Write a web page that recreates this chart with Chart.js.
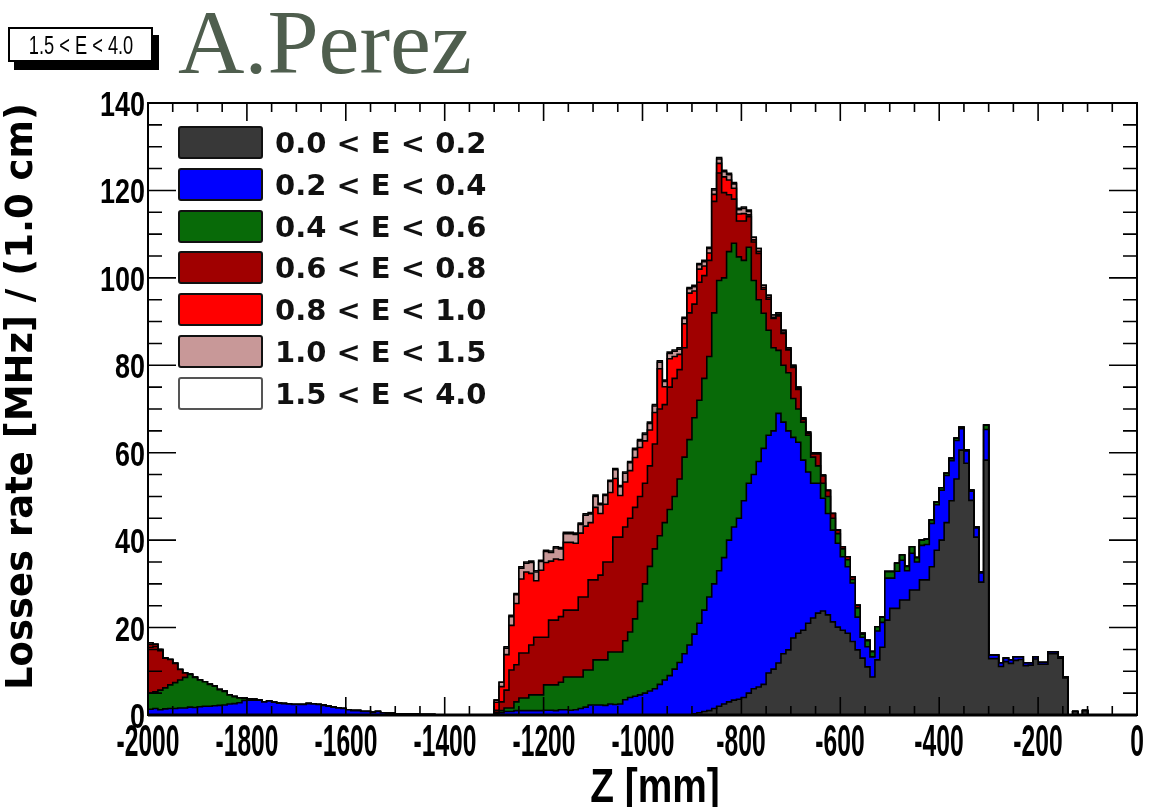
<!DOCTYPE html>
<html>
<head>
<meta charset="utf-8">
<title>Losses rate vs Z</title>
<script src="https://cdn.jsdelivr.net/npm/chart.js@4.4.0/dist/chart.umd.min.js"></script>
<style>
  html, body { margin: 0; padding: 0; background: #fff; }
  #wrap { position: relative; width: 1154px; height: 807px; overflow: hidden; }
  #losses { position: absolute; left: 0; top: 0; }
  #tag {
    position: absolute; left: 8px; top: 27px; width: 141px; height: 31px;
    border: 2px solid #000; background: #fff; box-shadow: 6px 8px 0 #000;
  }
  #tag span {
    position: absolute; left: 50%; top: 50%; white-space: nowrap;
    font: 25px 'Liberation Sans', Arial, sans-serif; line-height: 25px; color: #000;
    transform: translate(-50%, -50%) scaleX(0.73);
  }
  #author {
    position: absolute; left: 178px; top: -4px;
    font: 92px 'Liberation Serif', 'DejaVu Serif', serif; line-height: 92px;
    color: #4f5e4e;
  }
  #legend { position: absolute; left: 178px; top: 126px; }
  .row { position: absolute; left: 0; height: 34px; width: 330px; }
  .swatch {
    position: absolute; left: 0; top: 0; width: 81px; height: 29px;
    border: 2.5px solid #111; border-radius: 3px;
  }
  .row span {
    position: absolute; left: 97px; top: 0; line-height: 34px; white-space: nowrap;
    font: bold 29px 'DejaVu Sans', sans-serif; color: #111;
  }
  .tick {
    position: absolute; white-space: nowrap; color: #000;
    font-family: 'Liberation Sans', Arial, sans-serif; font-weight: bold;
  }
  .tick.x { font-size: 44px; line-height: 44px; transform: translate(-50%, -50%) scaleX(0.56); }
  .tick.y { font-size: 35px; line-height: 35px; transform-origin: right center;
            transform: translate(-100%, -50%) scaleX(0.77); }
  #xtitle {
    position: absolute; left: 655px; top: 786px; white-space: nowrap; color: #000;
    font: bold 48px 'Liberation Sans', Arial, sans-serif; line-height: 48px;
    transform: translate(-50%, -50%) scaleX(0.81);
  }
</style>
</head>
<body>
<div id="wrap">
  <canvas id="losses" width="1154" height="807"></canvas>
  <div id="tag"><span>1.5 &lt; E &lt; 4.0</span></div>
  <div id="author">A.Perez</div>
  <div id="legend"></div>
  <div id="xtitle">Z [mm]</div>
</div>
<script>
// histogram binning along Z (mm)
const zStart = -2000;
const binWidth = 10;

const energyBands = ['0.0 < E < 0.2', '0.2 < E < 0.4', '0.4 < E < 0.6', '0.6 < E < 0.8',
                     '0.8 < E < 1.0', '1.0 < E < 1.5', '1.5 < E < 4.0'];
const bandColors = ['#383838', '#0000ff', '#086a08', '#a00000', '#ff0000', '#c89898', '#ffffff'];
const xTicks = [-2000, -1800, -1600, -1400, -1200, -1000, -800, -600, -400, -200, 0];
const yTicks = [0, 20, 40, 60, 80, 100, 120, 140];

// losses rate per 1 cm bin [MHz], one row = 100 mm
const e00_02 = [
  0,0,0,0,0,0,0,0,0,0,
  0,0,0,0,0,0,0,0,0,0,
  0,0,0,0,0,0,0,0,0,0,
  0,0,0,0,0,0,0,0,0,0,
  0,0,0,0,0,0,0,0,0,0,
  0,0,0,0,0,0,0,0,0,0,
  0,0,0,0,0,0,0,0,0,0,
  0,0,0,0,0,0,0,0,0,0,
  0,0,0,0,0,0,0,0,0,0,
  0,0,0,0,0,0,0,0,0,0,
  0,0,0,0,0,0,0,0,0,0,
  0.3,0.5,0.8,1.0,1.5,2.0,2.5,3.0,3.4,3.6,
  4.0,5.0,6.0,6.4,7.0,9.6,10.5,11.9,14.0,14.9,
  17.6,18.7,19.4,21.0,22.2,23.3,23.8,22.9,21.3,20.1,
  19.4,18.7,16.8,14.9,13.0,11.0,8.7,12.6,15.5,21.7,
  24.4,24.4,26.3,26.3,28.6,28.6,30.9,30.9,33.9,37.7,
  40.0,44.0,49.0,54.0,60.6,57.6,49.1,40.7,30.4,58.3,
  12.9,12.9,11.1,12.2,11.8,12.5,12.7,11.3,11.4,12.8,
  11.6,11.6,14.0,14.0,13.0,8.5,0,0.8,0,1.0,
  0,0,0,0,0,0,0,0,0,0
];
const e02_04 = [
  1.3,1.5,1.2,1.4,1.5,1.5,1.6,1.6,1.8,1.7,
  1.9,2.0,2.0,2.1,2.2,2.3,2.5,2.6,2.8,3.3,
  3.4,3.4,3.4,3.0,3.2,2.9,2.7,2.6,2.5,2.4,
  2.4,2.4,2.6,2.5,2.4,2.2,2.0,1.8,1.6,1.5,
  1.2,1.0,1.0,0.8,0.8,0.6,0.8,0.5,0.4,0.4,
  0.3,0.3,0.2,0.2,0.2,0.1,0.1,0.1,0,0,
  0,0,0,0,0,0,0,0,0,0,
  0.3,0.5,0.8,0.8,1.0,1.0,1.0,1.0,1.0,1.0,
  1.1,1.1,1.0,1.2,1.2,1.1,1.2,1.5,1.8,2.3,
  2.3,2.3,2.2,2.5,2.4,2.5,3.5,4.0,4.3,4.6,
  5.0,5.5,6.0,7.0,8.0,9.0,10.5,12.0,14.0,16.0,
  18.2,20.5,23.2,26.0,28.5,31.0,33.5,37.0,39.6,41.4,
  45.0,48.0,49.0,51.6,54.0,54.4,54.5,57.1,53.0,50.1,
  45.9,43.7,38.9,34.6,30.8,29.7,25.8,23.2,21.0,19.2,
  16.8,15.2,13.4,7.5,4.8,4.6,4.6,6.6,5.7,9.6,
  6.9,8.5,9.1,6.7,8.4,6.4,7.9,8.1,9.9,10.4,
  11.4,10.8,9.2,8.8,4.9,2.8,2.1,2.1,2.1,7.0,
  0.8,0.8,0.8,0.8,0.8,0.8,0.6,0.6,0.5,0.5,
  0.4,0.4,0.4,0.4,0.3,0.2,0,0,0,0,
  0,0,0,0,0,0,0,0,0,0
];
const e04_06 = [
  3.7,3.8,4.5,4.8,5.4,5.9,6.4,7.0,7.5,6.9,
  6.1,5.6,5.0,4.5,3.6,3.1,2.1,1.6,1.1,0.5,
  0.3,0.2,0,0,0,0,0,0,0,0,
  0,0,0,0,0,0,0,0,0,0,
  0,0,0,0,0,0,0,0,0,0,
  0,0,0,0,0,0,0,0,0,0,
  0,0,0,0,0,0,0,0,0,0,
  0.3,0.5,0.8,0.8,2.0,2.9,2.9,3.6,3.6,3.6,
  5.8,5.8,5.9,6.3,7.5,7.6,7.5,7.2,8.5,8.0,
  10.3,10.3,10.4,11.9,12.0,11.9,13.5,15.0,17.7,21.4,
  25.0,28.5,32.0,34.0,36.0,38.0,39.5,42.0,45.0,47.0,
  49.5,51.0,53.0,55.0,62.0,66.4,64.0,66.0,64.9,59.8,
  55.0,54.0,44.4,37.0,30.9,24.0,19.0,14.4,13.0,13.3,
  8.9,7.6,8.7,8.4,6.0,4.0,3.4,3.9,2.7,2.2,
  1.8,1.6,0.8,2.1,0.7,1.4,1.2,1.0,1.2,1.5,
  1.5,1.8,1.2,1.0,1.5,1.0,1.2,1.2,0.8,0.6,
  0.6,0.5,0.5,0.5,0.3,0.2,0.2,0.2,0.2,1.0,
  0,0,0,0,0,0,0,0,0,0,
  0,0,0,0,0,0,0,0,0,0,
  0,0,0,0,0,0,0,0,0,0
];
const e06_08 = [
  10.5,10.4,9.0,6.8,5.8,4.4,2.4,1.0,0,0,
  0,0,0,0,0,0,0,0,0,0,
  0,0,0,0,0,0,0,0,0,0,
  0,0,0,0,0,0,0,0,0,0,
  0,0,0,0,0,0,0,0,0,0,
  0,0,0,0,0,0,0,0,0,0,
  0,0,0,0,0,0,0,0,0,0,
  0.5,2.0,4.1,8.7,8.5,10.3,10.3,11.4,13.2,13.2,
  10.9,14.8,14.8,15.0,15.3,15.3,15.3,18.3,16.7,20.6,
  18.3,19.4,22.4,20.6,26.3,26.3,26.0,26.0,25.5,24.0,
  23.0,23.0,24.0,29.0,27.0,28.0,27.0,25.0,25.0,29.0,
  26.0,27.0,23.5,22.0,25.5,24.6,19.5,13.0,10.1,8.2,
  9.0,7.0,8.8,10.6,5.5,7.1,6.7,7.9,7.3,5.2,
  7.1,4.5,0.6,0.4,0.7,2.7,1.7,1.3,1.1,0.8,
  0.5,0.7,0.6,0.6,0.2,0.1,0,0,0,0,
  0,0,0,0,0,0,0,0,0,0,
  0,0,0,0,0,0,0,0,0,0,
  0,0,0,0,0,0,0,0,0,0,
  0,0,0,0,0,0,0,0,0,0,
  0,0,0,0,0,0,0,0,0,0
];
const e08_10 = [
  0.6,0.5,0.3,0,0,0,0,0,0,0,
  0,0,0,0,0,0,0,0,0,0,
  0,0,0,0,0,0,0,0,0,0,
  0,0,0,0,0,0,0,0,0,0,
  0,0,0,0,0,0,0,0,0,0,
  0,0,0,0,0,0,0,0,0,0,
  0,0,0,0,0,0,0,0,0,0,
  1.8,3.5,8.1,10.2,14.0,16.9,18.5,16.4,12.9,15.3,
  17.1,13.5,14.0,13.0,15.5,15.5,15.3,14.6,16.2,13.1,
  16.6,14.1,13.2,15.9,13.4,9.5,10.3,10.9,11.4,11.2,
  9.7,8.2,7.2,9.2,4.1,6.5,5.0,3.5,5.5,4.5,
  3.0,3.0,2.2,1.7,1.6,2.2,3.6,3.4,2.5,1.6,
  1.7,0.4,0.5,0.5,0.4,0.4,0.3,0.3,0.3,0.2,
  0.2,0.2,0.2,0.1,0.1,0.1,0.1,0.1,0,0,
  0,0,0,0,0,0,0,0,0,0,
  0,0,0,0,0,0,0,0,0,0,
  0,0,0,0,0,0,0,0,0,0,
  0,0,0,0,0,0,0,0,0,0,
  0,0,0,0,0,0,0,0,0,0,
  0,0,0,0,0,0,0,0,0,0
];
const e10_15 = [
  0.4,0,0,0,0,0,0,0,0,0,
  0,0,0,0,0,0,0,0,0,0,
  0,0,0,0,0,0,0,0,0,0,
  0,0,0,0,0,0,0,0,0,0,
  0,0,0,0,0,0,0,0,0,0,
  0,0,0,0,0,0,0,0,0,0,
  0,0,0,0,0,0,0,0,0,0,
  0.5,1.0,1.5,2.0,2.0,2.5,2.0,2.5,2.0,2.0,
  2.5,2.0,2.5,2.5,2.0,2.0,2.0,2.0,2.5,2.0,
  2.5,2.0,2.0,2.5,2.0,2.0,2.0,1.8,1.8,1.5,
  1.5,1.5,1.5,1.5,1.2,1.2,1.2,1.2,1.2,1.0,
  1.0,1.0,1.0,1.0,1.0,1.0,1.2,1.2,1.0,1.0,
  1.2,0.8,0.6,0.6,0.5,0.5,0.5,0.4,0.4,0.3,
  0.3,0.3,0.2,0.2,0.2,0.2,0.1,0,0,0,
  0,0,0,0,0,0,0,0,0,0,
  0,0,0,0,0,0,0,0,0,0,
  0,0,0,0,0,0,0,0,0,0,
  0,0,0,0,0,0,0,0,0,0,
  0,0,0,0,0,0,0,0,0,0,
  0,0,0,0,0,0,0,0,0,0
];
const e15_40 = [
  0,0,0,0,0,0,0,0,0,0,
  0,0,0,0,0,0,0,0,0,0,
  0,0,0,0,0,0,0,0,0,0,
  0,0,0,0,0,0,0,0,0,0,
  0,0,0,0,0,0,0,0,0,0,
  0,0,0,0,0,0,0,0,0,0,
  0,0,0,0,0,0,0,0,0,0,
  0,0,0.3,0.3,0.3,0.3,0.3,0.3,0.3,0.3,
  0.3,0.3,0.3,0.3,0.3,0.3,0.3,0.3,0.3,0.3,
  0.3,0.3,0.3,0.3,0.3,0.3,0.3,0.3,0.3,0.3,
  0.3,0.3,0.3,0.3,0.3,0.3,0.3,0.3,0.3,0.3,
  0.3,0.3,0.3,0.3,0.3,0.3,0.3,0.3,0.3,0.3,
  0.3,0.3,0,0,0,0,0,0,0,0,
  0,0,0,0,0,0,0,0,0,0,
  0,0,0,0,0,0,0,0,0,0,
  0,0,0,0,0,0,0,0,0,0,
  0,0,0,0,0,0,0,0,0,0,
  0,0,0,0,0,0,0,0,0,0,
  0,0,0,0,0,0,0,0,0,0,
  0,0,0,0,0,0,0,0,0,0
];

const bands = [e00_02, e02_04, e04_06, e06_08, e08_10, e10_15, e15_40];

// bin contents -> step points (left edges + closing right edge)
function toSteps(values) {
  const pts = values.map((v, i) => ({ x: zStart + i * binWidth, y: v }));
  pts.push({ x: zStart + values.length * binWidth, y: values[values.length - 1] });
  return pts;
}

const datasets = bands.map((vals, i) => ({
  label: energyBands[i],
  data: toSteps(vals),
  stepped: true,
  fill: i === 0 ? 'origin' : '-1',
  backgroundColor: bandColors[i],
  borderColor: '#000',
  borderWidth: 1.6,
  pointRadius: 0,
  pointHoverRadius: 0
}));

// ROOT-like frame with ticks pointing inwards on all four sides
const rootFrame = {
  id: 'rootFrame',
  afterDatasetsDraw(chart) {
    const { ctx, chartArea: a, scales: { x, y } } = chart;
    ctx.save();
    ctx.strokeStyle = '#000';
    ctx.lineWidth = 1.6;
    ctx.beginPath();
    for (let v = -2000; v <= 0; v += 50) {
      const px = x.getPixelForValue(v);
      const len = v % 200 === 0 ? 18 : 9;
      ctx.moveTo(px, a.bottom); ctx.lineTo(px, a.bottom - len);
      ctx.moveTo(px, a.top); ctx.lineTo(px, a.top + len);
    }
    for (let v = 0; v <= 140; v += 5) {
      const py = y.getPixelForValue(v);
      const len = v % 20 === 0 ? 28 : 14;
      ctx.moveTo(a.left, py); ctx.lineTo(a.left + len, py);
      ctx.moveTo(a.right, py); ctx.lineTo(a.right - len, py);
    }
    ctx.stroke();
    ctx.lineWidth = 2;
    ctx.strokeRect(a.left, a.top, a.right - a.left, a.bottom - a.top);
    ctx.lineWidth = 3;
    ctx.beginPath();
    ctx.moveTo(a.left, a.bottom); ctx.lineTo(a.right, a.bottom);
    ctx.stroke();
    ctx.restore();
  }
};

const chart = new Chart(document.getElementById('losses'), {
  type: 'line',
  data: { datasets: datasets },
  options: {
    responsive: false,
    animation: false,
    events: [],
    layout: { padding: { top: 103, right: 17, bottom: 0, left: 0 } },
    plugins: {
      legend: { display: false },
      tooltip: { enabled: false }
    },
    scales: {
      x: {
        type: 'linear',
        min: -2000,
        max: 0,
        afterFit: s => { s.height = 92; },
        grid: { display: false, drawTicks: false },
        border: { display: false },
        ticks: { display: false }
      },
      y: {
        stacked: true,
        min: 0,
        max: 140,
        afterFit: s => { s.width = 148; },
        grid: { display: false, drawTicks: false },
        border: { display: false },
        ticks: { display: false },
        title: {
          display: true,
          text: 'Losses rate [MHz] / (1.0 cm)',
          align: 'end',
          color: '#000',
          padding: 0,
          font: { family: "'DejaVu Sans', sans-serif", size: 37, weight: 'bold' }
        }
      }
    }
  },
  plugins: [rootFrame]
});

// condensed tick labels placed from the chart's own scales
const wrap = document.getElementById('wrap');
function tickLabel(cls, left, top, text) {
  const el = document.createElement('div');
  el.className = 'tick ' + cls;
  el.style.left = left + 'px';
  el.style.top = top + 'px';
  el.textContent = text;
  wrap.appendChild(el);
}
const area = chart.chartArea;
xTicks.forEach(v => tickLabel('x', chart.scales.x.getPixelForValue(v), area.bottom + 26, String(v)));
yTicks.forEach(v => tickLabel('y', area.left - 3, chart.scales.y.getPixelForValue(v), String(v)));

// legend, top entry = lowest energy band
const legend = document.getElementById('legend');
energyBands.forEach((name, i) => {
  const row = document.createElement('div');
  row.className = 'row';
  row.style.top = (i * 41.8) + 'px';
  const sw = document.createElement('div');
  sw.className = 'swatch';
  sw.style.background = bandColors[i];
  if (i === energyBands.length - 1) sw.style.borderColor = '#555';
  const txt = document.createElement('span');
  txt.textContent = name;
  row.appendChild(sw);
  row.appendChild(txt);
  legend.appendChild(row);
});
</script>
</body>
</html>
